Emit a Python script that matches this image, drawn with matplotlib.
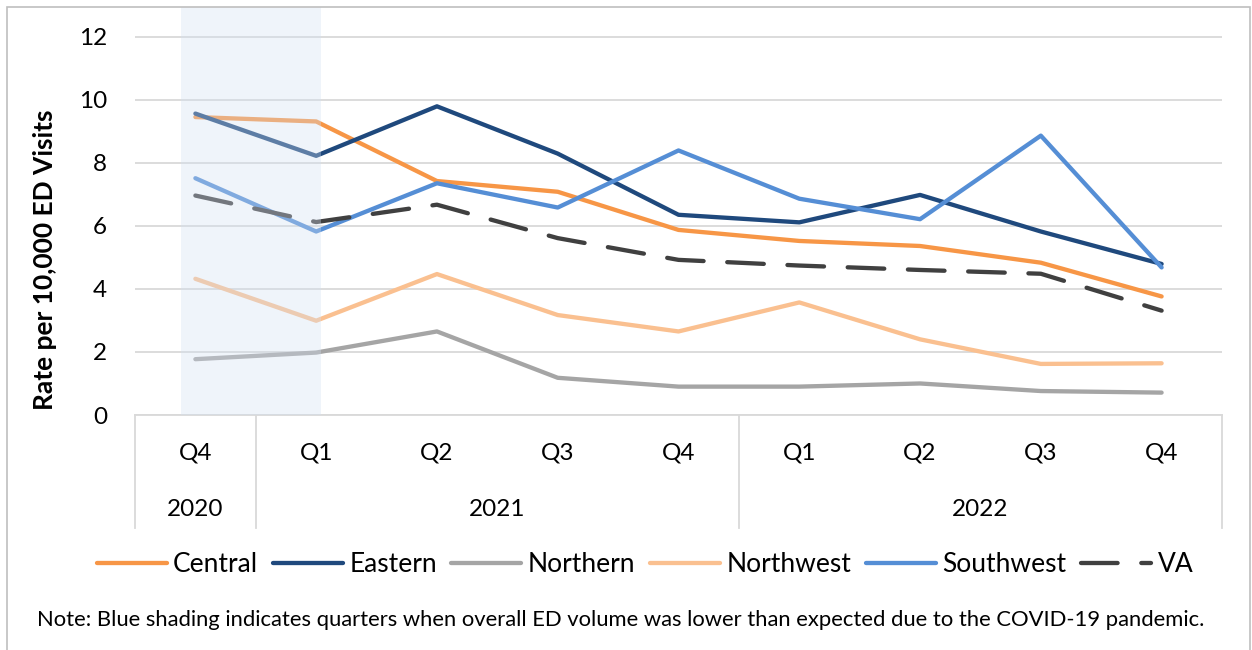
import numpy as np
import matplotlib.pyplot as plt
from matplotlib.patches import Rectangle

plt.rcParams['font.family'] = ['Lato', 'DejaVu Sans']

quarters = ['Q4', 'Q1', 'Q2', 'Q3', 'Q4', 'Q1', 'Q2', 'Q3', 'Q4']
years = ['2020', '2021', '2022']
year_spans = [(0, 0), (1, 4), (5, 8)]

central = [9.45, 9.31, 7.42, 7.08, 5.87, 5.52, 5.36, 4.83, 3.76]
eastern = [9.56, 8.22, 9.79, 8.29, 6.35, 6.11, 6.98, 5.82, 4.79]
northern = [1.77, 1.98, 2.65, 1.18, 0.90, 0.90, 1.00, 0.76, 0.71]
northwest = [4.32, 2.99, 4.47, 3.17, 2.65, 3.57, 2.40, 1.62, 1.64]
southwest = [7.51, 5.82, 7.35, 6.58, 8.39, 6.86, 6.21, 8.86, 4.68]
va = [6.96, 6.12, 6.67, 5.61, 4.92, 4.74, 4.60, 4.48, 3.31]

W, H = 1252, 650
fig = plt.figure(figsize=(W / 100, H / 100), dpi=100)

# outer chart frame
fig.patches.append(Rectangle((7 / W, -0.1), (1250 - 7) / W, 1.1 - 7 / H,
                             transform=fig.transFigure, fill=False,
                             edgecolor='#BFBFBF', linewidth=1.2))

ax = fig.add_axes([135 / W, 1 - 415 / H, (1222 - 135) / W, (415 - 7) / H])
x = np.arange(len(quarters))

series = [
    ('Central', central, '#F79646', '-'),
    ('Eastern', eastern, '#1F497D', '-'),
    ('Northern', northern, '#A5A5A5', '-'),
    ('Northwest', northwest, '#FAC090', '-'),
    ('Southwest', southwest, '#558ED5', '-'),
    ('VA', va, '#404040', '--'),
]
handles = []
for i, (name, vals, col, ls) in enumerate(series):
    ln, = ax.plot(x, vals, color=col, lw=3.1, ls=ls, label=name, zorder=3 + i,
                  solid_capstyle='round', solid_joinstyle='round',
                  dash_capstyle='round')
    if ls == '--':
        ln.set_dashes((8.5, 5.5))
    handles.append(ln)

# COVID shading (drawn over the lines)
ax.axvspan(-0.12, 1.04, color='#D3E0F2', alpha=0.35, lw=0, zorder=10)

ax.set_xlim(-0.5, 8.5)
ax.set_ylim(0, 12.94)
ax.set_yticks(range(0, 13, 2))
ax.tick_params(axis='y', length=0, pad=20, labelsize=17.5)
ax.set_xticks([])
ax.grid(axis='y', color='#D9D9D9', lw=1.3, zorder=0)
ax.set_axisbelow(True)
for s in ['top', 'right', 'left']:
    ax.spines[s].set_visible(False)
ax.spines['bottom'].set_color('#D9D9D9')
ax.spines['bottom'].set_linewidth(1.3)

# two-level category axis
tr = ax.get_xaxis_transform()
for i, q in enumerate(quarters):
    ax.annotate(q, xy=(i, 0), xycoords=tr, xytext=(0, -38 * 0.72),
                textcoords='offset points', ha='center', va='center',
                fontsize=17.5)
for yr, (a, b) in zip(years, year_spans):
    ax.annotate(yr, xy=((a + b) / 2, 0), xycoords=tr, xytext=(0, -94 * 0.72),
                textcoords='offset points', ha='center', va='center',
                fontsize=17.5)
sep_bottom = -(528 - 415) / (415 - 7)
for xs in [-0.5, 0.5, 4.5, 8.5]:
    ax.plot([xs, xs], [0, sep_bottom], transform=tr, color='#D9D9D9',
            lw=1.3, clip_on=False)

fig.text(45 / W, 1 - 260 / H, 'Rate per 10,000 ED Visits', rotation=90,
         ha='center', va='center', fontsize=19, fontweight='bold')

fig.legend(handles=handles, loc='center', bbox_to_anchor=(645 / W, 1 - 565 / H),
           ncol=6, frameon=False, fontsize=19, handlelength=2.65,
           handletextpad=0.25, columnspacing=0.55)

fig.text(621 / W, 1 - 620 / H,
         'Note: Blue shading indicates quarters when overall ED volume was lower '
         'than expected due to the COVID-19 pandemic.',
         ha='center', va='center', fontsize=15.8)

fig.savefig('out.png', dpi=100)
